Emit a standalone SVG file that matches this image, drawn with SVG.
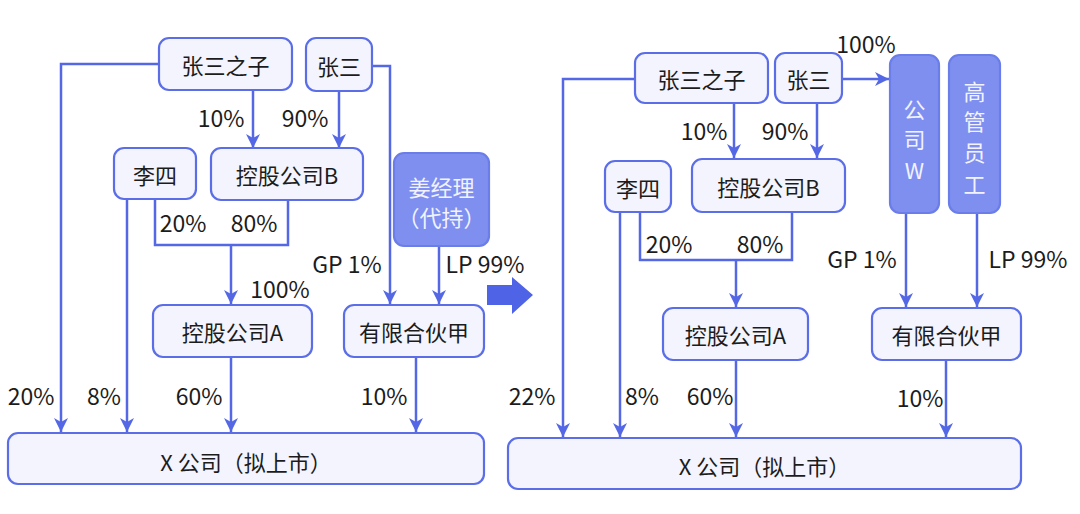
<svg xmlns="http://www.w3.org/2000/svg" width="1080" height="514" viewBox="0 0 1080 514">
<defs>
<marker id="ah" markerUnits="userSpaceOnUse" markerWidth="14" markerHeight="16" viewBox="0 0 14 16" refX="14" refY="7" orient="auto">
<path d="M0,0 L14,7 L0,14 L4,7 Z" fill="#5468e6"/>
</marker>
</defs>
<style>
.box{fill:#f3f4fd;stroke:#5b6ee8;stroke-width:2.2}
.dark{fill:#7e8ff0;stroke:#6a7de8;stroke-width:2.2}
.t{font-family:"Noto Sans CJK SC","Noto Sans",sans-serif;font-size:22px;fill:#1c1c1c;text-anchor:middle;dominant-baseline:central}
.p{font-size:23px}
.w{fill:#f2f3ff}
.ln{fill:none;stroke:#5468e6;stroke-width:2.5}
.ar{marker-end:url(#ah)}
</style>
<rect width="1080" height="514" fill="#ffffff"/>

<g id="connectors">
<!-- left -->
<path class="ln ar" d="M159,64 H61 V432"/>
<path class="ln ar" d="M127,199 V432"/>
<path class="ln" d="M155,199 V245 H288 V200"/>
<path class="ln ar" d="M231,245 V304"/>
<path class="ln ar" d="M253,90 V148"/>
<path class="ln ar" d="M339,91 V148"/>
<path class="ln ar" d="M372,66 H390 V304"/>
<path class="ln ar" d="M439,246 V304"/>
<path class="ln ar" d="M231,357 V432"/>
<path class="ln ar" d="M416,357 V432"/>
<!-- right -->
<path class="ln ar" d="M635,79 H563 V437"/>
<path class="ln ar" d="M620,212 V437"/>
<path class="ln" d="M640,212 V260 H792 V212"/>
<path class="ln ar" d="M736,260 V307"/>
<path class="ln ar" d="M734,103 V158"/>
<path class="ln ar" d="M817,103 V158"/>
<path class="ln ar" d="M842,79 H889"/>
<path class="ln ar" d="M906,213 V307"/>
<path class="ln ar" d="M977,213 V307"/>
<path class="ln ar" d="M736,360 V437"/>
<path class="ln ar" d="M946,360 V437"/>
</g>

<g id="labels">
<text class="t p" x="221" y="117">10%</text>
<text class="t p" x="305" y="117">90%</text>
<text class="t p" x="183" y="222">20%</text>
<text class="t p" x="254" y="222">80%</text>
<text class="t p" x="280" y="288">100%</text>
<text class="t p" x="347" y="263">GP 1%</text>
<text class="t p" x="485" y="263">LP 99%</text>
<text class="t p" x="31" y="395">20%</text>
<text class="t p" x="104" y="395">8%</text>
<text class="t p" x="199" y="395">60%</text>
<text class="t p" x="384" y="395">10%</text>

<text class="t p" x="866" y="43">100%</text>
<text class="t p" x="704" y="130">10%</text>
<text class="t p" x="785" y="130">90%</text>
<text class="t p" x="669" y="243">20%</text>
<text class="t p" x="760" y="243">80%</text>
<text class="t p" x="862" y="258">GP 1%</text>
<text class="t p" x="1028" y="258">LP 99%</text>
<text class="t p" x="532" y="395">22%</text>
<text class="t p" x="642" y="395">8%</text>
<text class="t p" x="710" y="395">60%</text>
<text class="t p" x="920" y="397">10%</text>
</g>

<g id="transition-arrow">
<path d="M487,285 H512 V277 L533,295 L512,314 V305 H487 Z" fill="#4f63e6"/>
</g>

<!-- left nodes -->
<g id="L-zhangsan-son"><rect class="box" x="159" y="38" width="133" height="52" rx="10"/><text class="t" x="225.5" y="64">张三之子</text></g>
<g id="L-zhangsan"><rect class="box" x="306" y="38" width="66" height="53" rx="10"/><text class="t" x="339" y="64.5">张三</text></g>
<g id="L-lisi"><rect class="box" x="114" y="148" width="82" height="51" rx="10"/><text class="t" x="155" y="173.5">李四</text></g>
<g id="L-holdB"><rect class="box" x="211" y="148" width="152" height="52" rx="10"/><text class="t" x="287" y="174">控股公司B</text></g>
<g id="L-jiang"><rect class="dark" x="394" y="153" width="95" height="93" rx="10"/><text class="t w" x="441.5" y="186">姜经理</text><text class="t w" x="441.5" y="216">（代持）</text></g>
<g id="L-holdA"><rect class="box" x="153" y="305" width="159" height="52" rx="10"/><text class="t" x="232.5" y="331">控股公司A</text></g>
<g id="L-lp"><rect class="box" x="344" y="305" width="140" height="52" rx="10"/><text class="t" x="414" y="331">有限合伙甲</text></g>
<g id="L-x"><rect class="box" x="8" y="433" width="476" height="51" rx="10"/><text class="t" x="246" y="461">X 公司（拟上市）</text></g>

<!-- right nodes -->
<g id="R-zhangsan-son"><rect class="box" x="635" y="53" width="133" height="50" rx="10"/><text class="t" x="701.5" y="78">张三之子</text></g>
<g id="R-zhangsan"><rect class="box" x="775" y="53" width="67" height="50" rx="10"/><text class="t" x="808.5" y="78">张三</text></g>
<g id="R-companyW"><rect class="dark" x="890" y="55" width="49" height="158" rx="10"/><text class="t w" x="914.5" y="108">公</text><text class="t w" x="914.5" y="138">司</text><text class="t w" x="914.5" y="169">W</text></g>
<g id="R-staff"><rect class="dark" x="949" y="55" width="51" height="158" rx="10"/><text class="t w" x="974.5" y="90">高</text><text class="t w" x="974.5" y="120">管</text><text class="t w" x="974.5" y="151">员</text><text class="t w" x="974.5" y="183">工</text></g>
<g id="R-lisi"><rect class="box" x="605" y="161" width="66" height="51" rx="10"/><text class="t" x="638" y="186.5">李四</text></g>
<g id="R-holdB"><rect class="box" x="692" y="159" width="153" height="53" rx="10"/><text class="t" x="768.5" y="185.5">控股公司B</text></g>
<g id="R-holdA"><rect class="box" x="663" y="308" width="145" height="52" rx="10"/><text class="t" x="735.5" y="334">控股公司A</text></g>
<g id="R-lp"><rect class="box" x="872" y="308" width="149" height="52" rx="10"/><text class="t" x="946.5" y="334">有限合伙甲</text></g>
<g id="R-x"><rect class="box" x="508" y="438" width="513" height="51" rx="10"/><text class="t" x="764.5" y="465">X 公司（拟上市）</text></g>
</svg>
